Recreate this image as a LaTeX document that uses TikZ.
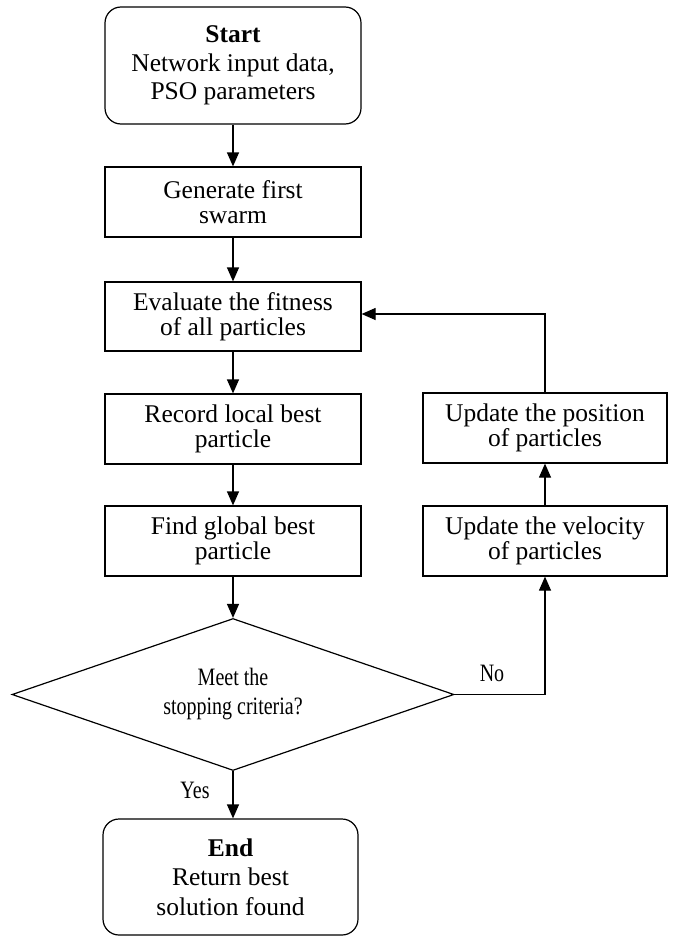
\documentclass[tikz,border=0pt]{standalone}
\usepackage{fontspec}
\setmainfont{Liberation Serif}
\newfontfamily\condfont[FakeStretch=0.8]{Liberation Serif}
\usetikzlibrary{shapes.geometric,arrows.meta}
\begin{document}
\begin{tikzpicture}[x=1pt,y=-1pt,
  box/.style={draw, line width=1.2pt, minimum width=256pt, minimum height=70pt, inner sep=0pt, align=center, font=\fontsize{25.5}{25.5}\selectfont},
  term/.style={box, rounded corners=16pt, minimum height=117pt, font=\fontsize{25.5}{28.5}\selectfont},
  dec/.style={draw, diamond, shape aspect=2.9, line width=1.2pt, minimum width=442pt, minimum height=152pt, inner sep=0pt, align=center, font=\condfont\fontsize{25}{29}\selectfont},
  conn/.style={line width=1.2pt},
  arr/.style={conn, -{Triangle[length=14pt,width=12pt]}},
  lab/.style={font=\condfont\fontsize{25}{25}\selectfont}
]
\useasboundingbox[fill=white] (0,0) rectangle (673,937);

\node[term] (start) at (233,65.5) {\textbf{Start}\\Network input data,\\PSO parameters};
\node[box] (gen) at (233,202) {Generate first\\swarm};
\node[box, minimum height=69pt] (eval) at (233,316.5) {Evaluate the fitness\\of all particles};
\node[box] (rec) at (233,429) {Record local best\\particle};
\node[box] (find) at (233,541) {Find global best\\particle};
\node[dec] (dia) at (233,694.5) {Meet the\\stopping criteria?};
\node[term, minimum width=255pt, minimum height=116pt, font=\fontsize{25.5}{29.5}\selectfont] (end) at (230.5,877) {\textbf{End}\\Return best\\solution found};
\node[box, minimum width=244pt] (pos) at (545,428) {Update the position\\of particles};
\node[box, minimum width=244pt] (vel) at (545,541) {Update the velocity\\of particles};

\coordinate (loop) at (545,314);

\draw[arr] (start.south) -- (gen.north);
\draw[arr] (gen.south) -- (eval.north);
\draw[arr] (eval.south) -- (rec.north);
\draw[arr] (rec.south) -- (find.north);
\draw[arr] (find.south) -- (dia.north);
\draw[arr] (dia.south) -- (dia.south |- end.north);
\draw[arr] (dia.east) -| (vel.south);
\draw[arr] (vel.north) -- (pos.south);
\draw[arr] (pos.north) |- (eval.east |- loop);

\node[lab] (yes) at (195,790) {Yes};
\node[lab] (no) at (492,673) {No};
\end{tikzpicture}
\end{document}
